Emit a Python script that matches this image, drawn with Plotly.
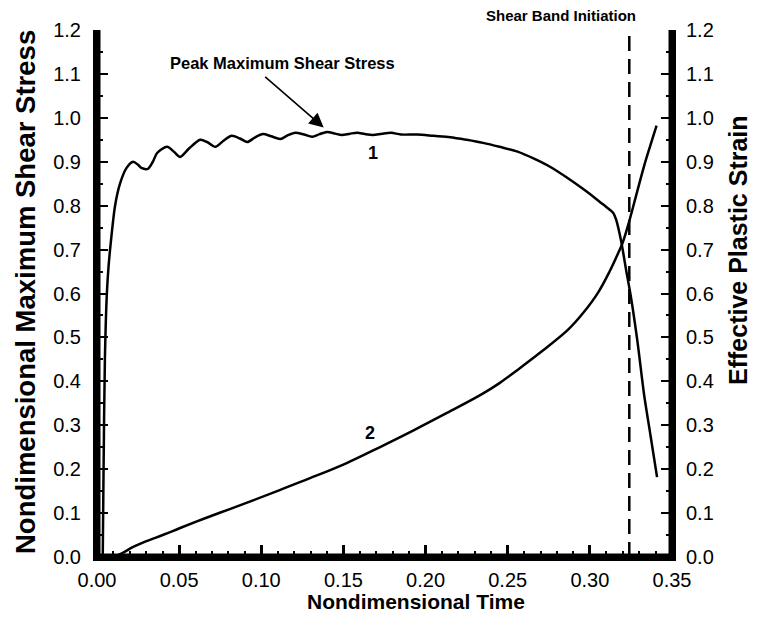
import plotly.graph_objects as go

# ---- data ----
t_stress = [0.0035, 0.0040, 0.0048, 0.0060, 0.0070, 0.0085, 0.0110, 0.0140, 0.0180, 0.0220,
            0.0250, 0.0270, 0.0310, 0.0340, 0.0366, 0.0427, 0.0470, 0.0506, 0.0560, 0.0628,
            0.0670, 0.0720, 0.0770, 0.0820, 0.0870, 0.0915, 0.0960, 0.1010, 0.1060, 0.1116,
            0.1160, 0.1207, 0.1260, 0.1310, 0.1355, 0.1400, 0.1450, 0.1490, 0.1540, 0.1585,
            0.1630, 0.1680, 0.1735, 0.1790, 0.1850, 0.1950, 0.2050, 0.2150, 0.2250, 0.2350,
            0.2450, 0.2560, 0.2660, 0.2760, 0.2860, 0.2966, 0.3050, 0.3100, 0.3130, 0.3145,
            0.3160, 0.3190, 0.3220, 0.3250, 0.3290, 0.3330, 0.3370, 0.3409]
shear_stress = [0.000, 0.200, 0.450, 0.600, 0.660, 0.720, 0.800, 0.850, 0.886, 0.900,
                0.893, 0.886, 0.884, 0.900, 0.920, 0.934, 0.922, 0.911, 0.930, 0.950,
                0.945, 0.934, 0.948, 0.959, 0.953, 0.945, 0.955, 0.963, 0.958, 0.952,
                0.960, 0.966, 0.962, 0.957, 0.963, 0.968, 0.964, 0.961, 0.964, 0.966,
                0.963, 0.961, 0.964, 0.966, 0.962, 0.962, 0.959, 0.956, 0.950, 0.943,
                0.934, 0.923, 0.907, 0.888, 0.864, 0.836, 0.812, 0.797, 0.788, 0.782,
                0.768, 0.720, 0.655, 0.592, 0.490, 0.370, 0.275, 0.182]

t_strain = [0.0090, 0.0120, 0.0160, 0.0220, 0.0300, 0.0400, 0.0506, 0.0650, 0.0800, 0.0950,
            0.1116, 0.1300, 0.1520, 0.1726, 0.1930, 0.2130, 0.2335, 0.2450, 0.2560, 0.2700,
            0.2866, 0.2960, 0.3050, 0.3120, 0.3170, 0.3200, 0.3240, 0.3290, 0.3340, 0.3375,
            0.3406]
plastic_strain = [0.000, 0.003, 0.010, 0.023, 0.036, 0.050, 0.066, 0.087, 0.108, 0.129,
                  0.153, 0.180, 0.214, 0.251, 0.289, 0.328, 0.369, 0.396, 0.426, 0.466,
                  0.517, 0.556, 0.602, 0.650, 0.690, 0.716, 0.765, 0.835, 0.903, 0.945,
                  0.982]

t_band = 0.324          # shear band initiation time
band_y = [0.0, 1.2]

x_range = [0, 0.35]
y_range = [0, 1.2]

FONT = "Liberation Sans, Arial, Helvetica, sans-serif"

fig = go.Figure()

# axis frame (left, right, bottom) as line traces along the axis ranges (half clipped)
frame_style = dict(mode="lines", line=dict(color="black", width=7),
                   showlegend=False, hoverinfo="skip", yaxis="y")
fig.add_trace(go.Scatter(x=[x_range[0], x_range[0]], y=y_range, **frame_style))
fig.add_trace(go.Scatter(x=[x_range[1], x_range[1]], y=y_range, **frame_style))
fig.add_trace(go.Scatter(x=x_range, y=[y_range[0], y_range[0]], **frame_style))

fig.add_trace(go.Scatter(x=t_stress, y=shear_stress, mode="lines",
                         line=dict(color="black", width=2.5, shape="spline", smoothing=0.8),
                         yaxis="y", showlegend=False))
fig.add_trace(go.Scatter(x=t_strain, y=plastic_strain, mode="lines",
                         line=dict(color="black", width=2.5, shape="spline", smoothing=1.0),
                         yaxis="y2", showlegend=False))
fig.add_trace(go.Scatter(x=[t_band, t_band], y=band_y, mode="lines",
                         line=dict(color="black", width=2.5, dash="15px,8px"),
                         yaxis="y", showlegend=False))

tickfont = dict(family=FONT, size=20, color="black")

yax_common = dict(range=y_range, dtick=0.1, tick0=0, tickformat=".1f",
                  showgrid=False, zeroline=False, showline=True, linewidth=4,
                  linecolor="black", ticks="inside", ticklen=11, tickwidth=2,
                  tickcolor="black", tickfont=tickfont, layer="above traces",
                  minor=dict(dtick=0.05, ticks="inside", ticklen=6, tickwidth=1.5,
                             tickcolor="black", showgrid=False))

fig.update_layout(
    width=759, height=626,
    margin=dict(l=97, r=87, t=30, b=69),
    paper_bgcolor="white", plot_bgcolor="rgba(0,0,0,0)",
    font=dict(family=FONT, color="black"),
    xaxis=dict(range=x_range, dtick=0.05, tick0=0, tickformat=".2f",
               showgrid=False, zeroline=False, showline=True, linewidth=4,
               linecolor="black", ticks="inside", ticklen=12, tickwidth=3,
               tickcolor="black", tickfont=tickfont, ticklabelstandoff=2,
               layer="above traces",
               minor=dict(dtick=0.01, ticks="inside", ticklen=6, tickwidth=1.5,
                          tickcolor="black", showgrid=False)),
    yaxis=dict(**yax_common, ticklabelstandoff=8),
    yaxis2=dict(**yax_common, overlaying="y", side="right", ticklabelstandoff=6),
)

annots = [
    # axis titles
    dict(text="<b>Nondimensional Time</b>", xref="paper", yref="paper",
         x=(416 - 97) / 575, y=-(601 - 557) / 527, showarrow=False,
         font=dict(family=FONT, size=21), xanchor="center", yanchor="middle"),
    dict(text="<b>Nondimensional Maximum Shear Stress</b>", xref="paper", yref="paper",
         x=-(97 - 25) / 575, y=(557 - 292) / 527, showarrow=False, textangle=-90,
         font=dict(family=FONT, size=27.5), xanchor="center", yanchor="middle"),
    dict(text="<b>Effective Plastic Strain</b>", xref="paper", yref="paper",
         x=(738 - 97) / 575, y=(557 - 250) / 527, showarrow=False, textangle=-90,
         font=dict(family=FONT, size=25), xanchor="center", yanchor="middle"),
    # curve labels
    dict(text="<b>1</b>", x=0.1677, y=0.92, xref="x", yref="y", showarrow=False,
         font=dict(family=FONT, size=18)),
    dict(text="<b>2</b>", x=0.1659, y=0.282, xref="x", yref="y", showarrow=False,
         font=dict(family=FONT, size=18)),
    # peak annotation
    dict(text="<b>Peak Maximum Shear Stress</b>", x=0.1128, y=1.125, xref="x", yref="y",
         showarrow=False, font=dict(family=FONT, size=16.5)),
    dict(text="", x=0.138, y=0.978, xref="x", yref="y", showarrow=True,
         ax=-60, ay=-52, arrowhead=2, arrowsize=1.8, arrowwidth=1.6, arrowcolor="black"),
    # shear band label (above the plot area -> paper coordinates)
    dict(text="<b>Shear Band Initiation</b>", xref="paper", yref="paper",
         x=(561 - 97) / 575, y=(557 - 16) / 527, showarrow=False,
         xanchor="center", yanchor="middle", font=dict(family=FONT, size=15)),
]
fig.update_layout(annotations=annots)

fig.write_html("out.html")
